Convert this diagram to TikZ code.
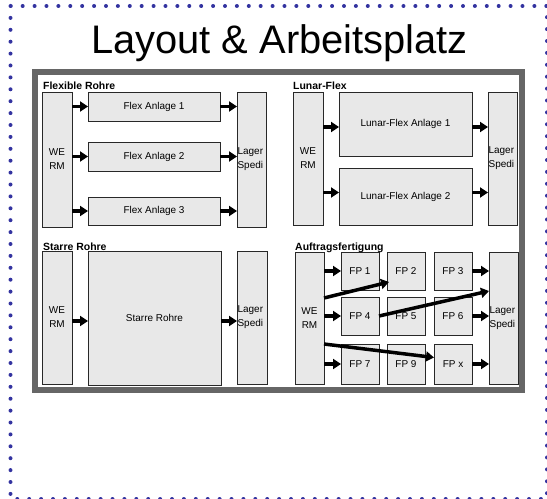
\documentclass[tikz,border=0pt]{standalone}
\usepackage{fontspec}
\setmainfont{Liberation Sans}
\usetikzlibrary{arrows.meta,calc}
\definecolor{dotblue}{RGB}{51,51,160}
\definecolor{framegray}{RGB}{102,102,102}
\definecolor{boxgray}{RGB}{232,232,232}
\definecolor{boxline}{RGB}{40,40,40}
\tikzset{
  box/.style={draw=boxline, fill=boxgray, line width=0.8bp, inner sep=0pt, outer sep=0pt,
    anchor=north west, font=\fontsize{10}{14}\selectfont, align=center},
  lagerbox/.style={box, text width=#1, inner xsep=0.6bp, align=left},
  sectlabel/.style={anchor=base west, inner sep=0pt, font=\bfseries\fontsize{10.5}{12}\selectfont},
  arr/.style={line width=3.5bp, -{Triangle[length=8bp,width=10bp]}},
}
\begin{document}
\begin{tikzpicture}[x=1bp,y=-1bp]
\useasboundingbox (0,0) rectangle (547,499);
% dotted outer border
\draw[dotblue, line width=4bp, line cap=round, dash pattern=on 0bp off 11.9bp] (10.5,6) rectangle (547,499);
% title
\node[anchor=base, inner sep=0pt, font=\fontsize{40}{48}\selectfont] (title) at (279.5,54) {Layout \& Arbeitsplatz};
% gray frame
\draw[framegray, line width=6bp] (34.5,72) rectangle (522,390);

% ---- Flexible Rohre
\node[sectlabel] (lab1) at (43,89.5) {Flexible Rohre};
\node[box, minimum width=30bp, minimum height=135bp] (we1) at (42,92) {WE\\RM};
\node[box, minimum width=132bp, minimum height=29bp] (f1) at (88,92) {Flex Anlage 1};
\node[box, minimum width=132bp, minimum height=29bp] (f2) at (88,142) {Flex Anlage 2};
\node[box, minimum width=132bp, minimum height=28bp] (f3) at (88,197) {Flex Anlage 3};
\node[lagerbox=27.8bp, minimum height=135bp] (lager1) at (237,92) {Lager\\Spedi};

% ---- Lunar-Flex
\node[sectlabel] (lab2) at (293,89.5) {Lunar-Flex};
\node[box, minimum width=30bp, minimum height=133bp] (we2) at (293,92) {WE\\RM};
\node[box, minimum width=133bp, minimum height=64bp] (l1) at (339,92) {Lunar-Flex Anlage 1};
\node[box, minimum width=133bp, minimum height=57bp] (l2) at (339,168) {Lunar-Flex Anlage 2};
\node[lagerbox=27.8bp, minimum height=133bp] (lager2) at (488,92) {Lager\\Spedi};

% ---- Starre Rohre
\node[box, minimum width=30bp, minimum height=133bp] (we3) at (42,251) {WE\\RM};
\node[box, minimum width=133bp, minimum height=134bp] (sr) at (88,251) {Starre Rohre};
\node[lagerbox=28.8bp, minimum height=133bp] (lager3) at (237,251) {Lager\\Spedi};
\node[sectlabel] (lab3) at (43,250.5) {Starre Rohre};

% ---- Auftragsfertigung
\node[box, minimum width=29bp, minimum height=132bp] (we4) at (295,252) {WE\\RM};
\node[box, minimum width=38bp, minimum height=38bp] (fp1) at (341,252) {FP 1};
\node[box, minimum width=38bp, minimum height=38bp] (fp2) at (387,252) {FP 2};
\node[box, minimum width=38bp, minimum height=38bp] (fp3) at (434,252) {FP 3};
\node[box, minimum width=38bp, minimum height=38bp] (fp4) at (341,297) {FP 4};
\node[box, minimum width=38bp, minimum height=38bp] (fp5) at (387,297) {FP 5};
\node[box, minimum width=38bp, minimum height=38bp] (fp6) at (434,297) {FP 6};
\node[box, minimum width=38bp, minimum height=40bp] (fp7) at (341,344) {FP 7};
\node[box, minimum width=38bp, minimum height=40bp] (fp9) at (387,344) {FP 9};
\node[box, minimum width=38bp, minimum height=40bp] (fpx) at (434,344) {FP x};
\node[lagerbox=27.8bp, minimum height=132bp] (lager4) at (489,252) {Lager\\Spedi};
\node[sectlabel] (lab4) at (295,250.5) {Auftragsfertigung};

% ---- arrows: Flexible Rohre
\foreach \b in {f1,f2,f3}{
  \draw[arr] (we1.east |- \b.west) -- (\b.west);
  \draw[arr] (\b.east) -- (\b.east -| lager1.west);
}
% Lunar-Flex
\draw[arr] ($(we2.east |- l1.west)+(0,3)$) -- ($(l1.west)+(0,3)$);
\draw[arr] ($(l1.east)+(0,3)$) -- ($(l1.east -| lager2.west)+(0,3)$);
\draw[arr] ($(we2.east |- l2.west)+(0,-4)$) -- ($(l2.west)+(0,-4)$);
\draw[arr] ($(l2.east)+(0,-4)$) -- ($(l2.east -| lager2.west)+(0,-4)$);
% Starre Rohre
\draw[arr] ($(we3.east |- sr.west)+(0,3)$) -- ($(sr.west)+(0,3)$);
\draw[arr] ($(sr.east)+(0,3)$) -- ($(sr.east -| lager3.west)+(0,3)$);
% Auftragsfertigung
\foreach \b in {fp1,fp4,fp7}{
  \draw[arr] (we4.east |- \b.west) -- (\b.west);
}
\foreach \b in {fp3,fp6,fpx}{
  \draw[arr] (\b.east) -- (\b.east -| lager4.west);
}
\draw[arr] ($(we4.east)+(0,-20)$) -- ($(fp2.west)+(2,11)$);
\draw[arr] (fp4.east) -- ($(lager4.west)+(0,-27)$);
\draw[arr] ($(we4.east)+(0,26)$) -- ($(fpx.west)+(0,-6.5)$);
\end{tikzpicture}
\end{document}
